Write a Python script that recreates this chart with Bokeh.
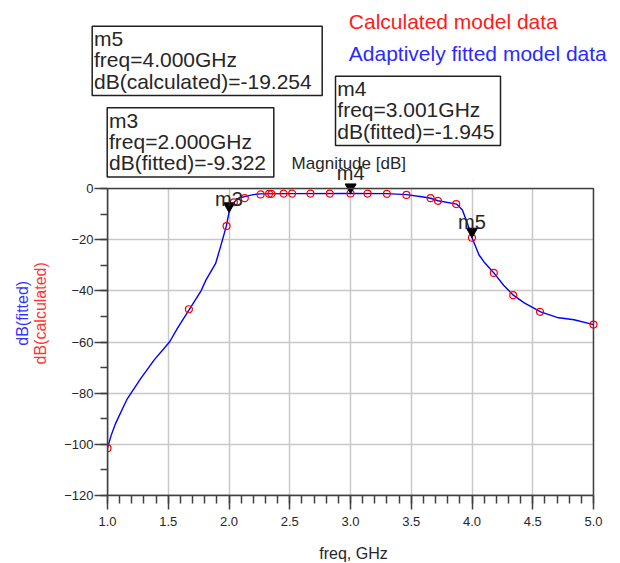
import math
from bokeh.plotting import figure
from bokeh.layouts import column, row
from bokeh.models import (FixedTicker, PrintfTickFormatter, Range1d, BoxAnnotation)
from bokeh.core.properties import value
from bokeh.embed import file_html
from bokeh.resources import INLINE

# ---------------- data ----------------
calc_freq = [1.0, 1.67, 1.98, 2.04, 2.13, 2.26, 2.33, 2.35, 2.45, 2.52, 2.67, 2.83,
             3.0, 3.14, 3.3, 3.46, 3.66, 3.72, 3.87, 4.0, 4.18, 4.34, 4.56, 5.0]
calc_db = [-101.5, -47.2, -14.7, -5.4, -3.8, -2.3, -2.1, -2.1, -2.0, -2.0, -2.0, -2.0,
           -1.95, -2.0, -2.1, -2.5, -3.8, -4.8, -6.1, -19.25, -33.0, -41.7, -48.2, -53.2]

fit_freq = [1.0, 1.03, 1.066, 1.136, 1.164, 1.273, 1.383, 1.512, 1.575, 1.674, 1.77, 1.81,
            1.89, 1.93, 1.978, 2.0, 2.041, 2.08, 2.13, 2.2, 2.26, 2.5, 3.0, 3.3, 3.46,
            3.6, 3.66, 3.72, 3.874, 3.921, 3.962, 4.0, 4.058, 4.099, 4.18, 4.26, 4.34,
            4.43, 4.565, 4.7, 4.84, 5.0]
fit_db = [-101.5, -96.5, -91.9, -84.8, -82.1, -74.3, -67.1, -59.9, -54.7, -47.2, -40.0, -35.8,
          -29.3, -22.8, -14.7, -9.322, -5.4, -3.8, -3.2, -2.4, -2.1, -2.0, -1.945, -2.0, -2.4,
          -3.3, -3.8, -4.8, -6.1, -8.4, -13.6, -19.254, -26.0, -28.7, -33.0, -37.8, -41.7,
          -44.7, -48.2, -50.4, -51.3, -53.2]

marker_names = ["m3", "m4", "m5"]
marker_freq = [2.000, 3.001, 4.000]
marker_db = [-9.322, -1.945, -19.254]
marker_trace = ["fitted", "fitted", "calculated"]

legend_texts = ["Calculated model data", "Adaptively fitted model data"]
plot_title = "Magnitude [dB]"
x_title = "freq, GHz"
y_titles = ["dB(fitted)", "dB(calculated)"]

x_major = [1.0, 1.5, 2.0, 2.5, 3.0, 3.5, 4.0, 4.5, 5.0]
x_minor = [round(1.0 + 0.1 * i, 1) for i in range(41)]
y_major = [-120, -100, -80, -60, -40, -20, 0]
y_minor = [-120 + 10 * i for i in range(13)]

# ---------------- layout constants (page pixels) ----------------
W = 620                 # page width
TOP_H = 180             # header band height
LEFT_W = 50             # band holding the two coloured y titles
FL, FW, FR_PAD = 107, 486, 6     # plot box left, width, extra frame room on the right
FT, FH, FB = 188, 307, 68        # plot box top (0 dB), height, bottom border
FR = W - FL - FW - FR_PAD
X0, X1, Y0, Y1 = 1.0, 5.0, -120.0, 0.0
XPP = (X1 - X0) / FW    # GHz per pixel
YPP = (Y1 - Y0) / FH    # dB per pixel
X1_VIEW = X1 + FR_PAD * XPP
Y1_VIEW = Y1 + (FT - TOP_H) * YPP
FONT = "Liberation Sans"
INK = "#262626"
EDGE = "#404040"
RED_T, BLUE_T = "#ff1a1a", "#2a2aff"
LABEL_RISE = 16         # marker name baseline above the marker point
ASC, DESC = 18.5, 8     # text box extent above / below the baseline (20px font)


def px_x(f):
    return FL + (f - X0) / XPP


def px_y(d):
    return FT + (Y1 - d) / YPP


def blank_fig(w, h):
    f = figure(width=w, height=h, x_range=Range1d(0, w), y_range=Range1d(h, 0),
               output_backend="svg", toolbar_location=None, min_border=0)
    f.axis.visible = False
    f.grid.visible = False
    f.outline_line_color = None
    f.background_fill_color = "white"
    f.border_fill_color = "white"
    return f


tri_size = 11
tip_px = (tri_size / 2) * math.sqrt(3) * 2 / 3

# marker name baselines: keep each name wholly in the header band or wholly in the plot
name_base, in_top = [], []
for d in marker_db:
    b = px_y(d) - LABEL_RISE
    if b - ASC < TOP_H < b + DESC:          # would straddle the seam
        if TOP_H - b > b - (TOP_H + ASC):   # closer to header side
            b = TOP_H - DESC
        else:
            b = TOP_H + ASC
    name_base.append(b)
    in_top.append(b <= TOP_H - DESC + 0.01)

# ---------------- header band ----------------
top = blank_fig(W, TOP_H)
box_geom = {"m5": (91.7, 25.7, 230.0), "m3": (106.7, 107.3, 166.6), "m4": (335.0, 75.7, 165.0)}
BOX_H, LINE_DY, LINE0 = 69.3, 21.4, 12.3
bl, br, bt, bb = [], [], [], []
tx, ty, tt = [], [], []
for name, f, d, tr in zip(marker_names, marker_freq, marker_db, marker_trace):
    x, y, w = box_geom[name]
    bl.append(x); br.append(x + w); bt.append(y); bb.append(y + BOX_H)
    lines = [name, f"freq={f:.3f}GHz", f"dB({tr})={d:.3f}"]
    for i, s in enumerate(lines):
        tx.append(x + 1.8); ty.append(y + LINE0 + i * LINE_DY); tt.append(s)
top.quad(left=bl, right=br, top=bt, bottom=bb, fill_color="white",
         line_color="#202020", line_width=1.5)
top.text(tx, ty, text=tt, text_align="left", text_baseline="middle",
         text_font=value(FONT), text_font_size="21px", text_color=INK)
top.text([348.3, 348.3], [20.7, 53.3], text=legend_texts, text_align="left",
         text_baseline="middle", text_font=value(FONT), text_font_size="21px",
         text_color=[RED_T, BLUE_T])
top.text([348.3], [163.0], text=[plot_title], text_align="center",
         text_baseline="middle", text_font=value(FONT), text_font_size="17px",
         text_color=INK)
top.text([px_x(f) for f, t in zip(marker_freq, in_top) if t],
         [b for b, t in zip(name_base, in_top) if t],
         text=[n for n, t in zip(marker_names, in_top) if t],
         text_align="center", text_baseline="alphabetic", text_font=value(FONT),
         text_font_size="20px", text_color=INK)

# ---------------- left band with y titles ----------------
MAIN_H = (FT - TOP_H) + FH + FB
left = blank_fig(LEFT_W, MAIN_H)
left.text([21.7, 40.0], [342.0 - TOP_H, 342.0 - TOP_H], text=y_titles, angle=math.pi / 2,
          text_align="center", text_baseline="middle", text_font=value(FONT),
          text_font_size="16px", text_color=["#3333ff", "#ff3333"])

# ---------------- main plot ----------------
p = figure(frame_width=FW + FR_PAD, frame_height=FH + (FT - TOP_H),
           x_range=Range1d(X0, X1_VIEW), y_range=Range1d(Y0, Y1_VIEW),
           output_backend="svg", toolbar_location=None,
           min_border_left=FL - LEFT_W, min_border_right=FR,
           min_border_top=0, min_border_bottom=FB)
p.background_fill_color = "white"
p.border_fill_color = "white"
p.outline_line_color = None

p.xaxis.ticker = FixedTicker(ticks=x_major, minor_ticks=x_minor)
p.yaxis.ticker = FixedTicker(ticks=y_major, minor_ticks=y_minor)
p.xaxis.bounds = (X0, X1)
p.yaxis.bounds = (Y0, Y1)
p.xaxis.formatter = PrintfTickFormatter(format="%.1f")
for ax in (p.xaxis[0], p.yaxis[0]):
    ax.axis_line_color = EDGE
    ax.axis_line_width = 1.5
    ax.major_tick_line_color = EDGE
    ax.minor_tick_line_color = EDGE
    ax.major_tick_line_width = 1.5
    ax.minor_tick_line_width = 1.5
    ax.major_tick_in = 0
    ax.minor_tick_in = 0
    ax.major_label_text_font = FONT
    ax.major_label_text_font_size = "13px"
    ax.major_label_text_color = INK
p.xaxis.major_tick_out = 14
p.xaxis.minor_tick_out = 8
p.xaxis.major_label_standoff = 7
p.yaxis.major_tick_out = 13
p.yaxis.minor_tick_out = 7
p.yaxis.major_label_standoff = 1
p.xaxis.axis_label = x_title
p.xaxis.axis_label_text_font = FONT
p.xaxis.axis_label_text_font_size = "16px"
p.xaxis.axis_label_text_font_style = "normal"
p.xaxis.axis_label_text_color = INK
p.xaxis.axis_label_standoff = 16

p.xgrid.ticker = FixedTicker(ticks=x_major)
p.ygrid.ticker = FixedTicker(ticks=y_major)
p.grid.grid_line_color = "#c8c8c8"
p.grid.grid_line_width = 1.5

# white covers keep the grid inside the plot box (above 0 dB and right of 5 GHz)
p.add_layout(BoxAnnotation(left=X0, right=X1_VIEW, bottom=Y1, top=Y1_VIEW, level="underlay",
                           fill_color="white", fill_alpha=1.0, line_color=None))
p.add_layout(BoxAnnotation(left=X1, right=X1_VIEW, bottom=Y0, top=Y1_VIEW, level="underlay",
                           fill_color="white", fill_alpha=1.0, line_color=None))
# plot box border
p.add_layout(BoxAnnotation(left=X0, right=X1, bottom=Y0, top=Y1, fill_color=None,
                           fill_alpha=0.0, line_color=EDGE, line_width=1.5, line_alpha=1.0))

p.line(fit_freq, fit_db, line_color="#0000ff", line_width=1.4)
p.scatter(calc_freq, calc_db, marker="circle", size=7, fill_color=None,
          line_color="#ff0000", line_width=1.2)

p.scatter(marker_freq, [d + tip_px * YPP for d in marker_db], marker="inverted_triangle",
          size=tri_size, fill_color="black", line_color="black")
p.text([f for f, t in zip(marker_freq, in_top) if not t],
       [d + (px_y(d) - b) * YPP for d, b, t in zip(marker_db, name_base, in_top) if not t],
       text=[n for n, t in zip(marker_names, in_top) if not t],
       text_align="center", text_baseline="alphabetic",
       text_font=value(FONT), text_font_size="20px", text_color=INK)

page = column(top, row(left, p, spacing=0), spacing=0)
open("out.html", "w").write(file_html(page, INLINE))
